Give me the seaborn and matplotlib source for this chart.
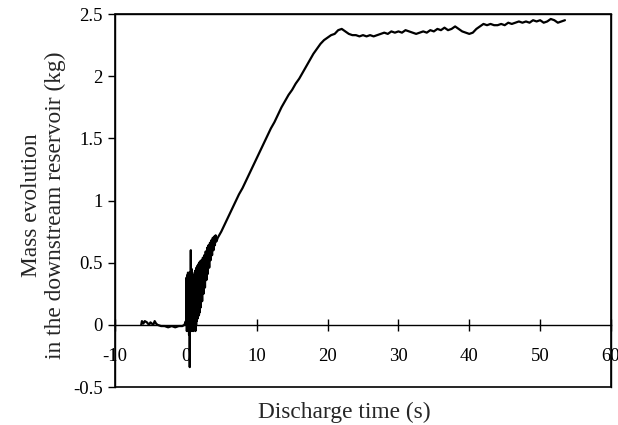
import matplotlib
matplotlib.use("Agg")
import matplotlib.pyplot as plt
import seaborn as sns
import pandas as pd
from matplotlib.patches import Rectangle

# ---- data ----
t_pre = [-6.3, -6.2, -6.0, -5.8, -5.5, -5.2, -5.0, -4.6, -4.4, -4.2, -4.0, -3.5, -3.0,
         -2.5, -2.0, -1.5, -1.0, -0.5, -0.2, 0.0]
m_pre = [0.0, 0.03, 0.01, 0.03, 0.02, 0.0, 0.02, 0.0, 0.03, 0.01, 0.0, -0.01, -0.01,
         -0.02, -0.01, -0.02, -0.01, -0.01, 0.0, 0.03]

t_osc = [0.05, 0.10, 0.15, 0.20, 0.25, 0.30, 0.35, 0.40, 0.45, 0.50, 0.55, 0.60, 0.65,
         0.70, 0.75, 0.80, 0.85, 0.90, 0.95, 1.00, 1.05, 1.10, 1.15, 1.20, 1.25, 1.30,
         1.35, 1.40, 1.45, 1.50, 1.55, 1.60, 1.65, 1.70, 1.75, 1.80, 1.85, 1.90, 1.95,
         2.00, 2.10, 2.20, 2.30, 2.40, 2.50, 2.60, 2.70, 2.80, 2.90, 3.00, 3.10, 3.20,
         3.30, 3.40, 3.50, 3.60, 3.70, 3.80, 3.90, 4.00, 4.10, 4.20, 4.30]
m_osc = [0.0, 0.38, -0.05, 0.40, -0.03, 0.42, -0.05, 0.40, -0.08, 0.42, -0.34, 0.40,
         -0.05, 0.60, 0.0, 0.45, -0.05, 0.42, -0.03, 0.40, -0.05, 0.38, -0.02, 0.36,
         0.0, 0.43, -0.05, 0.44, 0.0, 0.46, 0.03, 0.47, 0.05, 0.48, 0.07, 0.49, 0.08,
         0.50, 0.10, 0.51, 0.14, 0.52, 0.19, 0.54, 0.25, 0.56, 0.30, 0.59, 0.36, 0.62,
         0.41, 0.64, 0.46, 0.66, 0.52, 0.68, 0.56, 0.70, 0.60, 0.71, 0.64, 0.72, 0.67]

t_ramp = [4.5, 5.0, 5.5, 6.0, 6.5, 7.0, 7.5, 8.0, 8.5, 9.0, 9.5, 10.0, 10.5, 11.0,
          11.5, 12.0, 12.5, 13.0, 13.5, 14.0, 14.5, 15.0, 15.5, 16.0, 16.5, 17.0, 17.5,
          18.0, 18.5, 19.0, 19.5, 20.0, 20.5, 21.0, 21.5, 22.0, 22.5, 23.0]
m_ramp = [0.70, 0.75, 0.81, 0.87, 0.93, 0.99, 1.05, 1.10, 1.16, 1.22, 1.28, 1.34,
          1.40, 1.46, 1.52, 1.58, 1.63, 1.69, 1.75, 1.80, 1.85, 1.89, 1.94, 1.98, 2.03,
          2.08, 2.13, 2.18, 2.22, 2.26, 2.29, 2.31, 2.33, 2.34, 2.37, 2.38, 2.36, 2.34]

t_plat = [23.5, 24.0, 24.5, 25.0, 25.5, 26.0, 26.5, 27.0, 27.5, 28.0, 28.5, 29.0, 29.5,
          30.0, 30.5, 31.0, 31.5, 32.0, 32.5, 33.0, 33.5, 34.0, 34.5, 35.0, 35.5, 36.0,
          36.5, 37.0, 37.5, 38.0, 38.5, 39.0, 39.5, 40.0, 40.5, 41.0, 41.5, 42.0, 42.5,
          43.0, 43.5, 44.0, 44.5, 45.0, 45.5, 46.0, 46.5, 47.0, 47.5, 48.0, 48.5, 49.0,
          49.5, 50.0, 50.5, 51.0, 51.5, 52.0, 52.5, 53.0, 53.5]
m_plat = [2.33, 2.33, 2.32, 2.33, 2.32, 2.33, 2.32, 2.33, 2.34, 2.35, 2.34, 2.36, 2.35,
          2.36, 2.35, 2.37, 2.36, 2.35, 2.34, 2.35, 2.36, 2.35, 2.37, 2.36, 2.38, 2.37,
          2.39, 2.37, 2.38, 2.40, 2.38, 2.36, 2.35, 2.34, 2.35, 2.38, 2.40, 2.42, 2.41,
          2.42, 2.41, 2.41, 2.42, 2.41, 2.43, 2.42, 2.43, 2.44, 2.43, 2.44, 2.43, 2.45,
          2.44, 2.45, 2.43, 2.44, 2.46, 2.45, 2.43, 2.44, 2.45]

x_ticks = [-10, 0, 10, 20, 30, 40, 50, 60]
y_ticks = [-0.5, 0, 0.5, 1, 1.5, 2, 2.5]
x_tick_labels = ["-10", "0", "10", "20", "30", "40", "50", "60"]
y_tick_labels = ["-0.5", "0", "0.5", "1", "1.5", "2", "2.5"]

df = pd.DataFrame({"t": t_pre + t_osc + t_ramp + t_plat,
                   "m": m_pre + m_osc + m_ramp + m_plat})

# ---- plot ----
sns.set_style("white")
plt.rcParams["font.family"] = ["Liberation Serif", "DejaVu Serif"]

fig = plt.figure(figsize=(6.18, 4.25), dpi=100)
ax = fig.add_axes([115 / 618, 1 - 387 / 425, 496 / 618, 373 / 425])

sns.lineplot(data=df, x="t", y="m", sort=False, estimator=None, color="black",
             lw=1.6, ax=ax)

ax.set_xlim(-10, 60)
ax.set_ylim(-0.5, 2.5)

# x axis line at y = 0
ax.spines["bottom"].set_position(("data", 0))
for s in ["left", "right", "top", "bottom"]:
    ax.spines[s].set_color("black")
    ax.spines[s].set_linewidth(1.0)
ax.add_patch(Rectangle((0, 0), 1, 1, transform=ax.transAxes, fill=False,
                       edgecolor="black", lw=1.2, clip_on=False, zorder=5))

ax.set_xticks(x_ticks)
ax.set_xticklabels(x_tick_labels)
ax.set_yticks(y_ticks)
ax.set_yticklabels(y_tick_labels)
ax.tick_params(axis="x", direction="inout", length=8, width=1.0, pad=13,
               labelsize=13.5, colors="black", bottom=True)
ax.tick_params(axis="y", direction="out", length=5, width=1.0, pad=4,
               labelsize=13.5, colors="black", left=True)

ax.set_xlabel("Discharge time (s)", fontsize=16.8)
ax.xaxis.set_label_coords((344 - 115) / 496, (387 - 402) / 373)
ax.set_ylabel("Mass evolution\nin the downstream reservoir (kg)", fontsize=16.8,
              linespacing=1.15)
ax.yaxis.set_label_coords((66 - 115) / 496, (387 - 205) / 373)
ax.grid(False)

fig.savefig("out.png", dpi=100)
